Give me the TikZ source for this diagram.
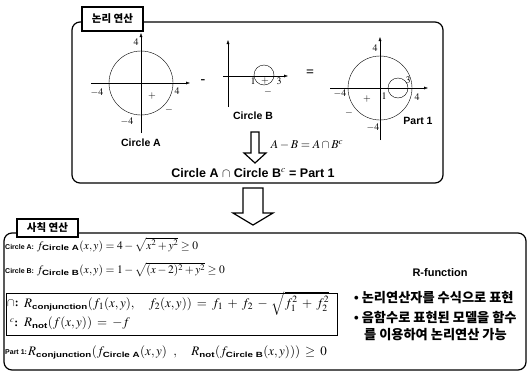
\documentclass[tikz,border=0pt]{standalone}
\usepackage{amsmath,amssymb}
\usepackage{mathptmx}
\usepackage{fontspec}
\setmainfont{Liberation Serif}
\setsansfont{Liberation Sans}
\newfontfamily\kor{Noto Sans CJK KR}
\usetikzlibrary{arrows.meta}
\newcommand{\bs}[1]{\textsf{\bfseries #1}}
\newcommand{\lab}[1]{{\fontsize{7}{9}\selectfont\bs{#1}}}
\newcommand{\sub}[1]{\text{\scalebox{1.3}[1]{\fontsize{7.5}{8}\selectfont\bs{#1}}}}
\newcommand{\widemath}{\medmuskip=6mu\relax\thickmuskip=7mu\relax}

\begin{document}
\begin{tikzpicture}[x=1pt, y=-1pt, every node/.style={font=\small, inner sep=1pt}, >={Latex[length=4pt,width=3pt]},
	panel/.style={draw, line width=1.2pt, rounded corners=8pt},
	tab/.style={draw, line width=1.8pt, fill=white, font=\kor\bfseries\fontsize{10.5}{12}\selectfont, minimum width=61pt, inner sep=0pt},
	tick/.style={font=\fontsize{10}{11}\selectfont, inner sep=0pt},
	caption/.style={font=\fontsize{10.5}{11}\selectfont\sffamily\bfseries},
	formula/.style={anchor=west, font=\fontsize{11.5}{13}\selectfont},
	bigformula/.style={anchor=west, font=\fontsize{13}{14}\selectfont},
	bulletline/.style={anchor=west, align=left, font=\kor\bfseries\fontsize{13.2}{17}\selectfont},
	hollow/.style={draw, line width=1.2pt, fill=white, line join=miter}]
	\useasboundingbox (0,0) rectangle (527,372);
	\draw[panel] (72,22) rectangle (443,183);
	\node[tab, minimum height=24pt] (logic) at (112.5,19) {논리 연산};
	\begin{scope}[shift={(141,83)}]
		\draw[->, thin] (-50,0) -- (49,0);
		\draw[->, thin] (0,50) -- (0,-50);
		\draw (0,0) circle (32pt);
		\node[tick] (at) at (-5,-41) {$4$};
		\node[tick] (al) at (-44,10) {$-4$};
		\node[tick] (ar) at (36,8) {$4$};
		\node[tick] (ab) at (-14,39) {$-4$};
		\node[tick] (ap) at (11,13) {$+$};
		\node[tick] (am) at (28,27) {$-$};
		\node[caption] (capA) at (0,60) {Circle A};
	\end{scope}
	\node[font=\fontsize{14}{14}\selectfont\bfseries] (minus) at (203,82) {-};
	\begin{scope}[shift={(228,76)}]
		\draw[->, thin] (-5,0) -- (60,0);
		\draw[->, thin] (0,31) -- (0,-36);
		\draw (36,-1) circle (10pt);
		\node[tick] (b1) at (25,5) {$1$};
		\node[tick] (b3) at (51,5) {$3$};
		\node[tick] (bp) at (37,5) {$+$};
		\node[tick] (bm) at (40,16) {$-$};
		\node[caption] (capB) at (25,40) {Circle B};
	\end{scope}
	\node[font=\fontsize{14}{14}\selectfont\bfseries] (equal) at (310,73) {=};
	\begin{scope}[shift={(380,88)}]
		\draw[->, thin] (-50,0) -- (48,0);
		\draw[->, thin] (0,52) -- (0,-51);
		\draw (0,0) circle (32pt);
		\draw (18,0) circle (10pt);
		\node[tick] (pt) at (-5,-40) {$4$};
		\node[tick] (pl) at (-40,6) {$-4$};
		\node[tick] (p1) at (4,8) {$1$};
		\node[tick] (p3) at (28,-8) {$3$};
		\node[tick] (pr) at (37,9) {$4$};
		\node[tick] (pp) at (-13,11) {$+$};
		\node[tick] (pm) at (-31,25) {$-$};
		\node[tick] (pb) at (-7,40) {$-4$};
		\node[caption] (capP) at (38,33) {Part 1};
	\end{scope}
	\draw[hollow] (251,132) -- (259,132) -- (259,153) -- (266,153) -- (255,163) -- (244,153) -- (251,153) -- cycle;
	\node[font=\fontsize{12}{13}\selectfont] (rule) at (307,145) {$A-B=A\cap B^{c}$};
	\node[font=\fontsize{12.5}{13}\selectfont\sffamily\bfseries] (result) at (253,173) {Circle A $\cap$ Circle B$^{c}$ = Part 1};
	\draw[hollow] (243,188) -- (263,188) -- (263,213) -- (273,213) -- (253,225) -- (233,213) -- (243,213) -- cycle;
	\draw[panel] (4,233) rectangle (526,370);
	\node[tab, minimum height=18pt] (arith) at (47.5,228) {사칙 연산};
	\node[formula] (fA) at (4,245) {\lab{Circle A:} $f_{\sub{Circle A}}(x,y)=4-\sqrt{x^2+y^2}\geq 0$};
	\node[formula] (fB) at (4,270) {\lab{Circle B:} $f_{\sub{Circle B}}(x,y)=1-\sqrt{(x-2)^2+y^2}\geq 0$};
	\draw[line width=1pt] (6,293) rectangle (337,335);
	\node[formula] (capop) at (6,303) {$\cap$\textbf{:}};
	\node[bigformula] (conj) at (23,303) {$\widemath R_{\sub{conjunction}}(f_1(x,y),\quad f_2(x,y))=f_1+f_2-\sqrt{f_1^2+f_2^2}$};
	\node[formula] (notop) at (9,323) {$^{c}$\textbf{:}};
	\node[bigformula] (neg) at (23,323) {$\widemath R_{\sub{not}}(f(x,y))=-f$};
	\node[formula] (part) at (4,352) {\lab{Part 1:}};
	\node[bigformula] (combo) at (27,352) {$\widemath R_{\sub{conjunction}}(f_{\sub{Circle A}}(x,y)\ \ ,\quad R_{\sub{not}}(f_{\sub{Circle B}}(x,y)))\geq 0$};
	\node[font=\fontsize{11}{12}\selectfont\sffamily\bfseries] (rfun) at (440,273) {R-function};
	\node[bulletline] (item1) at (353,298) {{\sffamily\textbullet} 논리연산자를 수식으로 표현};
	\node[bulletline] (item2) at (353,326) {{\sffamily\textbullet} 음함수로 표현된 모델을 함수\\\hspace{0.75em}를 이용하여 논리연산 가능};
\end{tikzpicture}
\end{document}
